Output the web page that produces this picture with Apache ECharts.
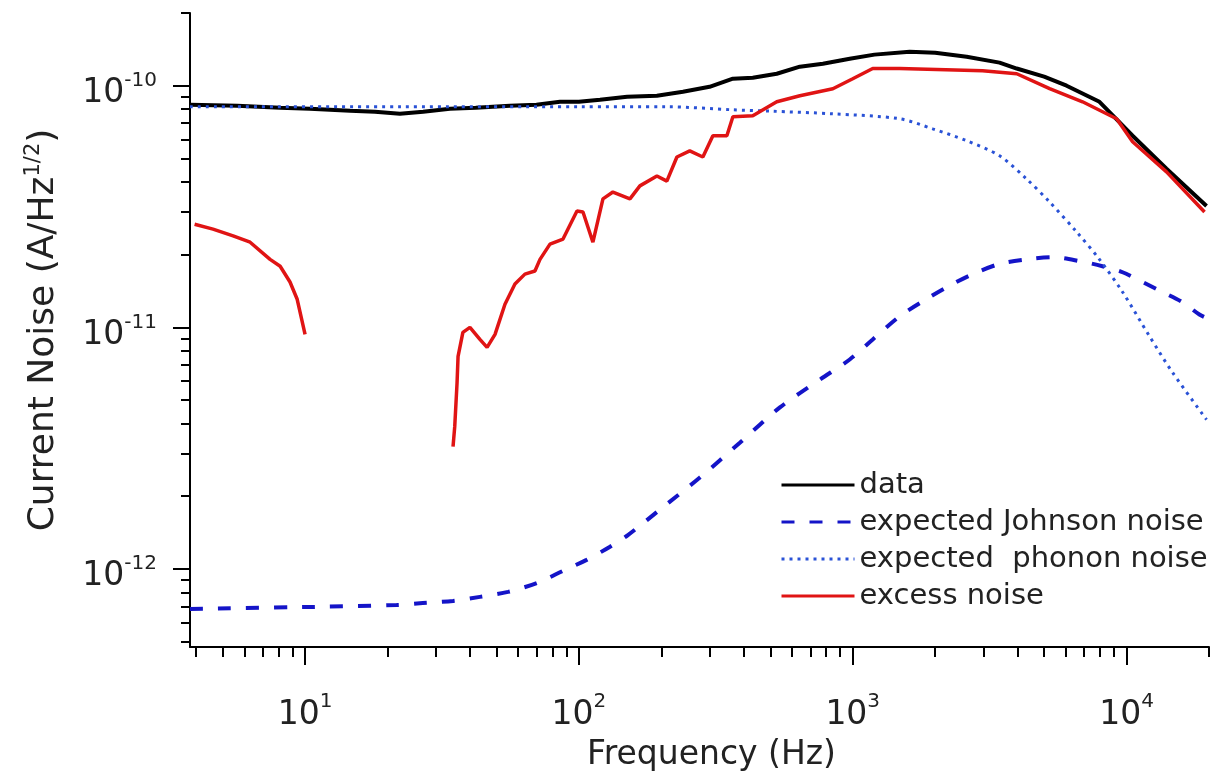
<!DOCTYPE html>
<html>
<head>
<meta charset="utf-8">
<script src="https://cdn.jsdelivr.net/npm/echarts@6/dist/echarts.min.js"></script>
<style>
html, body { margin: 0; padding: 0; background: #fff; }
#main { width: 1215px; height: 775px; }
</style>
</head>
<body>
<div id="main"></div>
<script>
var myChart = echarts.init(document.getElementById('main'));

// measured spectrum (Hz, A/Hz^1/2)
var dataFreq = [3.8, 5.65, 8.11, 10.4, 14.6, 18, 22.2, 27, 33.8, 42, 56, 70, 85.3, 100, 119.4, 150, 192.7, 239.9, 300, 365, 431.5, 528, 641, 778, 975, 1200, 1614, 2000, 2607, 3436, 3971, 5000, 6040, 7962, 10520, 13990, 19590];
var dataNoise = [8.34e-11, 8.26e-11, 8.10e-11, 8.03e-11, 7.87e-11, 7.80e-11, 7.65e-11, 7.80e-11, 8.03e-11, 8.10e-11, 8.26e-11, 8.34e-11, 8.58e-11, 8.58e-11, 8.75e-11, 9.00e-11, 9.09e-11, 9.44e-11, 9.90e-11, 1.069e-10, 1.079e-10, 1.121e-10, 1.199e-10, 1.234e-10, 1.294e-10, 1.345e-10, 1.383e-10, 1.37e-10, 1.319e-10, 1.246e-10, 1.178e-10, 1.09e-10, 1.0e-10, 8.58e-11, 6.21e-11, 4.53e-11, 3.18e-11];

// expected Johnson noise
var johnsonFreq = [3.8, 10.7, 21.6, 26.9, 34.7, 43.5, 55.1, 70.3, 87.5, 106.7, 129, 151, 197.6, 276.6, 387, 542, 759, 975, 1183, 1484, 1862, 2317, 2743, 3436, 4316, 5370, 6730, 8166, 9668, 11430, 13530, 16000, 18450, 20000];
var johnsonNoise = [6.83e-13, 6.96e-13, 7.09e-13, 7.22e-13, 7.37e-13, 7.66e-13, 8.03e-13, 8.75e-13, 9.81e-13, 1.09e-12, 1.23e-12, 1.38e-12, 1.76e-12, 2.39e-12, 3.33e-12, 4.66e-12, 6.08e-12, 7.36e-12, 8.91e-12, 1.11e-11, 1.31e-11, 1.51e-11, 1.66e-11, 1.83e-11, 1.91e-11, 1.95e-11, 1.88e-11, 1.79e-11, 1.69e-11, 1.54e-11, 1.40e-11, 1.27e-11, 1.13e-11, 1.08e-11];

// expected phonon noise
var phononFreq = [3.8, 22.2, 100, 209.5, 365, 500, 846, 1484, 1959, 2607, 3436, 4316, 5236, 6577, 7962, 9668, 12130, 14720, 19590];
var phononNoise = [8.18e-11, 8.18e-11, 8.18e-11, 8.18e-11, 7.95e-11, 7.85e-11, 7.65e-11, 7.30e-11, 6.63e-11, 5.92e-11, 5.13e-11, 4.11e-11, 3.30e-11, 2.48e-11, 1.91e-11, 1.40e-11, 9.18e-12, 6.50e-12, 4.15e-12];

// excess noise, two pieces (gap where it goes negative)
var excessFreqLow = [3.95, 4.61, 5.46, 6.30, 7.45, 8.11, 8.81, 9.35, 10];
var excessNoiseLow = [2.67e-11, 2.55e-11, 2.39e-11, 2.25e-11, 1.91e-11, 1.79e-11, 1.54e-11, 1.31e-11, 9.35e-12];
var excessFreqHigh = [34.7, 35.2, 35.9, 36.2, 37.7, 40.0, 43.5, 46.2, 49.4, 53.7, 58.4, 63.5, 69.1, 72.1, 78.4, 87.5, 98.4, 103.5, 112.5, 122.4, 133.1, 153.6, 167, 192.7, 209.5, 228, 254, 283.6, 308.5, 347, 365, 431.5, 528, 641, 846, 1000, 1183, 1484, 2980, 3971, 5236, 6905, 9198, 10520, 13990, 19260];
var excessNoiseHigh = [3.21e-12, 3.88e-12, 5.91e-12, 7.58e-12, 9.53e-12, 1.0e-11, 8.91e-12, 8.26e-12, 9.35e-12, 1.245e-11, 1.51e-11, 1.66e-11, 1.71e-11, 1.91e-11, 2.21e-11, 2.32e-11, 3.03e-11, 3.00e-11, 2.25e-11, 3.40e-11, 3.63e-11, 3.40e-11, 3.85e-11, 4.23e-11, 4.03e-11, 5.07e-11, 5.37e-11, 5.07e-11, 6.21e-11, 6.21e-11, 7.44e-11, 7.51e-11, 8.58e-11, 9.09e-11, 9.72e-11, 1.069e-10, 1.178e-10, 1.178e-10, 1.154e-10, 1.121e-10, 9.72e-11, 8.58e-11, 7.30e-11, 5.86e-11, 4.40e-11, 3.00e-11];

// ticks
var xMajor = [10, 100, 1000, 10000];
var xMinor = [4, 5, 6, 7, 8, 9, 20, 30, 40, 50, 60, 70, 80, 90, 200, 300, 400, 500, 600, 700, 800, 900, 2000, 3000, 4000, 5000, 6000, 7000, 8000, 9000, 20000];
var yMajor = [1e-12, 1e-11, 1e-10];
var yMinor = [5e-13, 6e-13, 7e-13, 8e-13, 9e-13, 2e-12, 3e-12, 4e-12, 5e-12, 6e-12, 7e-12, 8e-12, 9e-12, 2e-11, 3e-11, 4e-11, 5e-11, 6e-11, 7e-11, 8e-11, 9e-11, 2e-10];

function pairs(xs, ys) {
    return xs.map(function (x, i) { return [x, ys[i]]; });
}

var font = 'DejaVu Sans';
var expRich = {
    b: { fontFamily: font, fontSize: 33, color: '#222', lineHeight: 46 },
    s: { fontFamily: font, fontSize: 20, color: '#222', lineHeight: 12, verticalAlign: 'top' }
};
function expLabel(v) {
    return '{b|10}{s|' + Math.round(Math.log10(v)) + '}';
}

var option = {
    animation: false,
    backgroundColor: '#fff',
    grid: {
        left: 190,
        right: 6,
        top: 13,
        bottom: 128,
        outerBoundsMode: 'none'
    },
    legend: {
        orient: 'vertical',
        left: 775,
        top: 465,
        itemWidth: 73,
        itemHeight: 14,
        itemGap: 7,
        itemStyle: { opacity: 0 },
        lineStyle: { width: 3 },
        data: ['data', 'expected Johnson noise', 'expected  phonon noise', 'excess noise'],
        textStyle: { fontFamily: font, fontSize: 29, color: '#222', lineHeight: 30 }
    },
    xAxis: [
        {
            type: 'log',
            position: 'bottom',
            min: 3.8,
            max: 20000,
            axisLine: { lineStyle: { color: '#000', width: 2 } },
            axisTick: { customValues: xMajor, length: 18, lineStyle: { color: '#000', width: 2 } },
            axisLabel: { customValues: xMajor, margin: 45, formatter: expLabel, rich: expRich },
            splitLine: { show: false },
            name: 'Frequency (Hz)',
            nameLocation: 'middle',
            nameGap: 92,
            nameTextStyle: { fontFamily: font, fontSize: 33, color: '#222', padding: [0, 0, 0, 24] }
        },
        {
            type: 'log',
            position: 'bottom',
            min: 3.8,
            max: 20000,
            axisLine: { show: false },
            axisTick: { customValues: xMinor, length: 10, lineStyle: { color: '#000', width: 2 } },
            axisLabel: { show: false },
            splitLine: { show: false }
        }
    ],
    yAxis: [
        {
            type: 'log',
            position: 'left',
            min: 4.75e-13,
            max: 2e-10,
            axisLine: { lineStyle: { color: '#000', width: 2 } },
            axisTick: { customValues: yMajor, length: 17, lineStyle: { color: '#000', width: 2 } },
            axisLabel: { customValues: yMajor, margin: 33, padding: [16, 0, 0, 0], formatter: expLabel, rich: expRich },
            splitLine: { show: false },
            name: '{n|Current Noise (A/Hz}{s|1/2}{n|)}',
            nameLocation: 'middle',
            nameGap: 125,
            nameTextStyle: {
                rich: {
                    n: { fontFamily: font, fontSize: 36, color: '#222', lineHeight: 42 },
                    s: { fontFamily: font, fontSize: 21, color: '#222', lineHeight: 14, verticalAlign: 'top' }
                }
            }
        },
        {
            type: 'log',
            position: 'left',
            min: 4.75e-13,
            max: 2e-10,
            axisLine: { show: false },
            axisTick: { customValues: yMinor, length: 9, lineStyle: { color: '#000', width: 2 } },
            axisLabel: { show: false },
            splitLine: { show: false }
        }
    ],
    series: [
        {
            name: 'data',
            type: 'line',
            symbol: 'none',
            color: '#000',
            lineStyle: { color: '#000', width: 4 },
            data: pairs(dataFreq, dataNoise)
        },
        {
            name: 'expected Johnson noise',
            type: 'line',
            symbol: 'none',
            smooth: 0.3,
            color: '#1414c8',
            lineStyle: { color: '#1414c8', width: 4, type: [13, 15] },
            data: pairs(johnsonFreq, johnsonNoise)
        },
        {
            name: 'expected  phonon noise',
            type: 'line',
            symbol: 'none',
            smooth: 0.3,
            color: '#2a52d6',
            lineStyle: { color: '#2a52d6', width: 3, type: [3, 5] },
            data: pairs(phononFreq, phononNoise)
        },
        {
            name: 'excess noise',
            type: 'line',
            symbol: 'none',
            color: '#e01414',
            lineStyle: { color: '#e01414', width: 3.5 },
            data: pairs(excessFreqLow, excessNoiseLow)
        },
        {
            name: 'excess noise',
            type: 'line',
            symbol: 'none',
            color: '#e01414',
            lineStyle: { color: '#e01414', width: 3.5 },
            data: pairs(excessFreqHigh, excessNoiseHigh)
        }
    ]
};

myChart.setOption(option);
</script>
</body>
</html>
